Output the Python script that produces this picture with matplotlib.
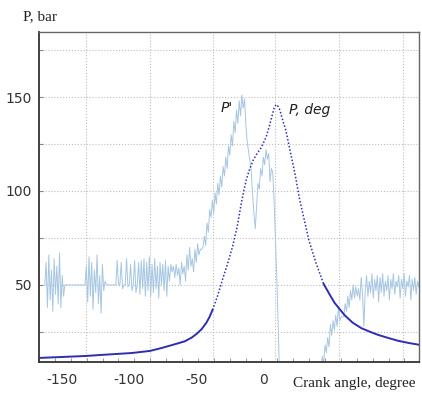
import numpy as np
import matplotlib
matplotlib.use('Agg')
import matplotlib.pyplot as plt

plt.rcParams['axes.unicode_minus'] = False

# presion en el cilindro P (bar) frente al angulo del cigueñal (grados)
# tramo izquierdo (linea continua)
p_left_angle = [-166.0, -132.6, -120.0, -97.9, -84.5, -75.6, -68.2, -58.6,
                -53.4, -49.7, -46.0, -42.4, -40.1, -37.9]
p_left_bar = [11.2, 12.2, 12.8, 13.8, 14.9, 16.5, 18.0, 20.0,
              22.0, 24.0, 26.5, 30.0, 33.0, 36.7]
# tramo central (punteado)
p_mid_angle = [-37.9, -34.2, -30.5, -26.8, -23.1, -19.4, -16.4, -14.1, -12.7,
               -10.5, -7.5, -4.6, -1.6, 2.1, 4.3, 6.5, 8.0, 9.5, 11.0, 12.4,
               13.9, 16.9, 19.8, 23.5, 27.2, 30.9, 33.9, 39.1, 45.0]
p_mid_bar = [36.7, 44.0, 52.7, 61.0, 70.0, 81.4, 93.6, 101.6, 106.0,
             111.0, 116.5, 120.0, 123.0, 128.7, 134.0, 140.0, 144.0, 146.0, 145.0, 143.0,
             139.0, 132.0, 122.0, 109.6, 95.0, 83.5, 74.0, 62.0, 50.5]
# tramo derecho (linea continua)
p_right_angle = [45.0, 49.4, 53.1, 60.5, 66.5, 73.1, 79.8, 85.7, 93.1, 100.5,
                 108.6, 117.5]
p_right_bar = [50.5, 45.0, 40.5, 34.0, 30.0, 27.0, 25.0, 23.4, 21.8, 20.3,
               19.1, 18.0]

# senal P' (ruidosa), por tramos de 1 grado
seg_a_start = -163
seg_a = [50, 62, 38, 66, 42, 58, 36, 64, 45, 60, 40, 67, 38, 55, 44, 50]
seg_b_start = -133
seg_b = [50, 60, 41, 65, 44, 62, 37, 58, 46, 66, 40, 55, 35, 61, 47, 52, 50, 50]
seg_c_start = -110
seg_c = [50, 63, 50, 50, 62, 48, 50, 50, 64, 49, 50, 61, 47, 50, 63, 46, 50, 62,
         45, 63, 48, 64, 44, 62, 47, 65, 44, 61, 46, 64, 48, 60, 43, 62, 50, 61,
         47, 63, 44, 60, 52, 61]
seg_d_start = -68
seg_d = [57, 60, 54, 61, 55, 59, 50, 62, 56, 60, 52, 66, 58, 70, 60, 64, 57, 69,
         62, 72, 66, 69, 69, 70, 76, 71, 83, 78, 90]
seg_e_start = -39
seg_e = [86, 95, 88, 99, 93, 104, 98, 108, 102, 113, 108, 118, 112, 124, 119,
         130, 124, 137, 131, 143, 136, 148, 140, 151, 144, 149]
seg_f_start = -13
seg_f = [135, 126, 121, 116, 110, 98, 88, 80, 92, 104, 101, 112, 108, 118, 114,
         122, 117, 120, 105, 112, 110, 95, 75, 55, 30, 5]
seg_g_start = 43
seg_g = [5, 12, 8, 18, 14, 22, 17, 29, 23, 31, 26, 34, 28, 38, 31, 33, 33, 33,
         40, 36, 44, 38, 47, 42, 50, 43, 49, 44, 48, 42, 54, 45, 28, 47, 55, 44,
         52, 46, 56, 43, 53, 47, 55, 41, 54, 46, 56, 44, 52, 47, 55, 42, 53, 48,
         56, 45, 52, 49, 55, 43, 53, 48, 56, 44, 52, 49, 55, 42, 53, 47, 54, 45,
         52, 49, 55, 46, 52]

x_tick_vals = [-150, -100, -50, 0]
y_tick_vals = [25, 50, 75, 100, 125, 150, 175]
y_tick_labels = ['', '50', '', '100', '', '150', '']
x_grid = [-131.9, -84.5, -37.9, 8.7, 56.8, 104.2]

first = [(seg_a_start, seg_a), (seg_b_start, seg_b), (seg_c_start, seg_c),
         (seg_d_start, seg_d), (seg_e_start, seg_e), (seg_f_start, seg_f)]
pp_x, pp_y = [], []
for start, vals in first:
    pp_x += list(np.arange(start, start + len(vals)))
    pp_y += vals
pp_x.append(np.nan)
pp_y.append(np.nan)
pp_x += list(np.arange(seg_g_start, seg_g_start + len(seg_g)))
pp_y += seg_g

fig = plt.figure(figsize=(4.22, 3.94), dpi=100)
ax = fig.add_axes([39 / 422, 1 - 362 / 394, 380 / 422, 330 / 394])

ax.plot(pp_x, pp_y, color='#a6c6e2', lw=0.7, zorder=2)

blue = '#2e2eb4'
ax.plot(p_left_angle, p_left_bar, color=blue, lw=1.4, zorder=3)
ax.plot(p_mid_angle, p_mid_bar, color=blue, lw=1.1, ls=(0, (1, 1.3)), zorder=3)
ax.plot(p_right_angle, p_right_bar, color=blue, lw=1.4, zorder=3)

ax.set_xlim(-165.2, 116.1)
ax.set_ylim(9.0, 184.6)

for gx in x_grid:
    ax.axvline(gx, color='#bdbdbd', lw=0.8, ls=':', zorder=1)
ax.set_yticks(y_tick_vals)
ax.set_yticklabels(y_tick_labels)
ax.grid(axis='y', color='#bdbdbd', lw=0.8, ls=':', zorder=1)

ax.set_xticks(x_tick_vals)
ax.set_xticks(np.arange(-167.3, 117, 11.85), minor=True)
ax.tick_params(axis='x', which='major', length=0, pad=8, labelsize=10, labelcolor='#333333')
ax.tick_params(axis='x', which='minor', direction='in', length=3, color='#888888')
ax.tick_params(axis='y', direction='in', length=3, color='#888888', pad=5,
               labelsize=10, labelcolor='#333333')

for side in ['left', 'bottom']:
    ax.spines[side].set_color('#333333')
    ax.spines[side].set_linewidth(1.3)
for side in ['top', 'right']:
    ax.spines[side].set_color('#666666')
    ax.spines[side].set_linewidth(1.0)

ax.text(-27.5, 144.2, "P'", fontsize=10, style='italic', color='#222222',
        ha='center', va='center')
ax.text(19.0, 143.0, 'P, deg', fontsize=10, style='italic', color='#222222',
        ha='left', va='center')

fig.text(23 / 422, 1 - 17 / 394, 'P, bar', family='Liberation Serif', fontsize=11,
         color='#222222', ha='left', va='center')
fig.text(293 / 422, 1 - 383 / 394, 'Crank angle, degree', family='Liberation Serif',
         fontsize=11, color='#222222', ha='left', va='center')

fig.savefig('out.png', dpi=100)
